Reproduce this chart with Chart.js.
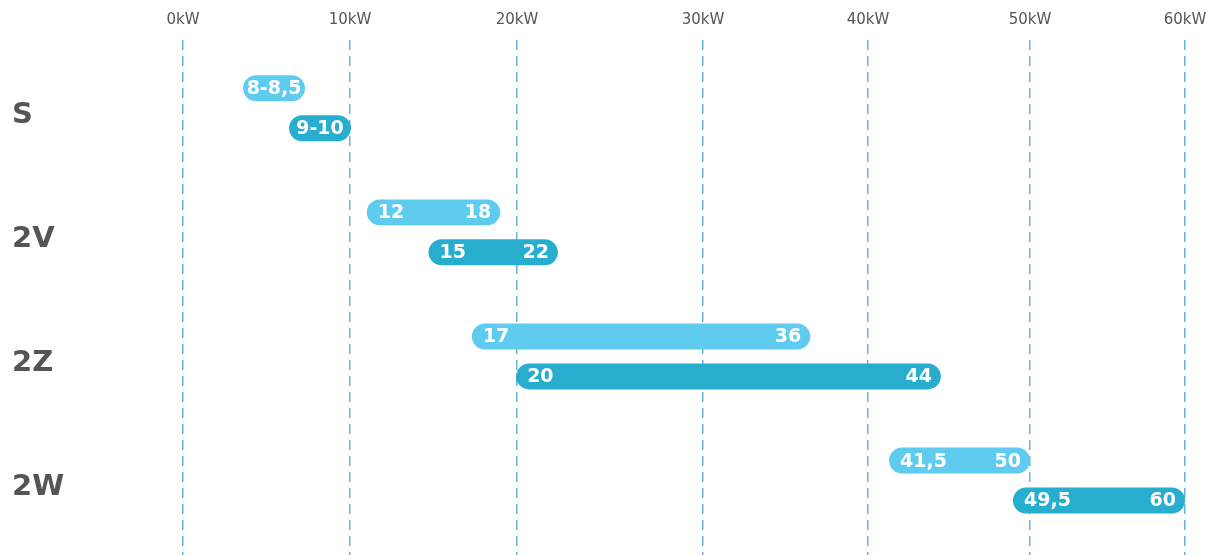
<!DOCTYPE html>
<html>
<head>
<meta charset="utf-8">
<script src="https://cdn.jsdelivr.net/npm/chart.js@4.4.0/dist/chart.umd.min.js"></script>
<style>
  html, body { margin: 0; padding: 0; background: #fff; }
  #wrap { width: 1219px; height: 555px; }
</style>
</head>
<body>
<div id="wrap"><canvas id="chart"></canvas></div>
<script>
const categories = ['S', '2V', '2Z', '2W'];
const kwTicks = [0, 10, 20, 30, 40, 50, 60];

// bar extents as drawn in the picture (kW)
const lightRanges = [[3.6, 7.3], [11.0, 19.0], [17.3, 36.5], [41.3, 50.0]];
const darkRanges = [[6.35, 10.05], [14.7, 22.2], [19.95, 44.5], [48.95, 60.0]];

// printed values on the pills
const lightLabels = [['8-8,5'], ['12', '18'], ['17', '36'], ['41,5', '50']];
const darkLabels = [['9-10'], ['15', '22'], ['20', '44'], ['49,5', '60']];

const FONT = "'DejaVu Sans', sans-serif";

// the source axis is not evenly spaced, so map each 10kW step to its own width
class PiecewiseScale extends Chart.LinearScale {
  _interp(v, from, to) {
    if (v <= from[0]) return to[0];
    for (let i = 1; i < from.length; i++) {
      if (v <= from[i]) {
        const t = (v - from[i - 1]) / (from[i] - from[i - 1]);
        return to[i - 1] + t * (to[i] - to[i - 1]);
      }
    }
    return to[to.length - 1];
  }
  getPixelForValue(value) {
    return this.getPixelForDecimal(this._interp(value, kwTicks, this.options.spots));
  }
  getValueForPixel(pixel) {
    return this._interp(this.getDecimalForPixel(pixel), this.options.spots, kwTicks);
  }
}
PiecewiseScale.id = 'piecewise';
PiecewiseScale.defaults = Chart.LinearScale.defaults;
Chart.register(PiecewiseScale);

const toPoints = (ranges) => ranges.map((r, i) => ({ x: r, y: i }));

const pillLabels = {
  id: 'pillLabels',
  afterDatasetsDraw(chart) {
    const ctx = chart.ctx;
    const sets = [lightLabels, darkLabels];
    ctx.save();
    ctx.fillStyle = '#ffffff';
    ctx.font = 'bold 19px ' + FONT;
    ctx.textBaseline = 'middle';
    chart.data.datasets.forEach((ds, di) => {
      chart.getDatasetMeta(di).data.forEach((bar, i) => {
        const left = Math.min(bar.x, bar.base);
        const right = Math.max(bar.x, bar.base);
        const txt = sets[di][i];
        const y = bar.y + 1;
        if (txt.length === 1) {
          ctx.textAlign = 'center';
          ctx.fillText(txt[0], (left + right) / 2, y);
        } else {
          ctx.textAlign = 'left';
          ctx.fillText(txt[0], left + 11, y);
          ctx.textAlign = 'right';
          ctx.fillText(txt[1], right - 9, y);
        }
      });
    });
    ctx.restore();
  }
};

new Chart(document.getElementById('chart'), {
  type: 'bar',
  data: {
    datasets: [
      {
        label: 'light',
        data: toPoints(lightRanges),
        backgroundColor: '#5ecbef',
        borderRadius: 13,
        borderSkipped: false,
      },
      {
        label: 'dark',
        data: toPoints(darkRanges),
        backgroundColor: '#27adcd',
        borderRadius: 13,
        borderSkipped: false,
      },
    ],
  },
  options: {
    indexAxis: 'y',
    responsive: true,
    maintainAspectRatio: false,
    animation: false,
    categoryPercentage: 0.644,
    barPercentage: 0.65,
    layout: { padding: { left: 12, top: 0, right: 34, bottom: 0 } },
    scales: {
      x: {
        type: 'piecewise',
        position: 'top',
        min: 0,
        max: 60,
        spots: [0, 0.1667, 0.3333, 0.519, 0.6836, 0.8453, 1],
        afterBuildTicks: (scale) => {
          scale.ticks = kwTicks.map((v) => ({ value: v }));
        },
        ticks: {
          color: '#555555',
          font: { family: FONT, size: 15 },
          padding: 11,
          callback: (v) => v + 'kW',
        },
        grid: {
          color: '#5fb6e6',
          lineWidth: 1.5,
          drawTicks: false,
        },
        border: { display: false, dash: [10, 6] },
      },
      y: {
        type: 'linear',
        reverse: true,
        offset: false,
        min: -0.55,
        max: 3.6,
        afterFit: (scale) => {
          scale.width = 171;
          scale.paddingTop = 0;
          scale.paddingBottom = 0;
        },
        ticks: {
          stepSize: 1,
          includeBounds: false,
          crossAlign: 'far',
          labelOffset: 7,
          color: '#555555',
          font: { family: FONT, size: 29, weight: 'bold' },
          callback: (v) => categories[v] || '',
        },
        grid: { display: false },
        border: { display: false },
      },
    },
    plugins: {
      legend: { display: false },
      tooltip: { enabled: false },
    },
  },
  plugins: [pillLabels],
});
</script>
</body>
</html>
